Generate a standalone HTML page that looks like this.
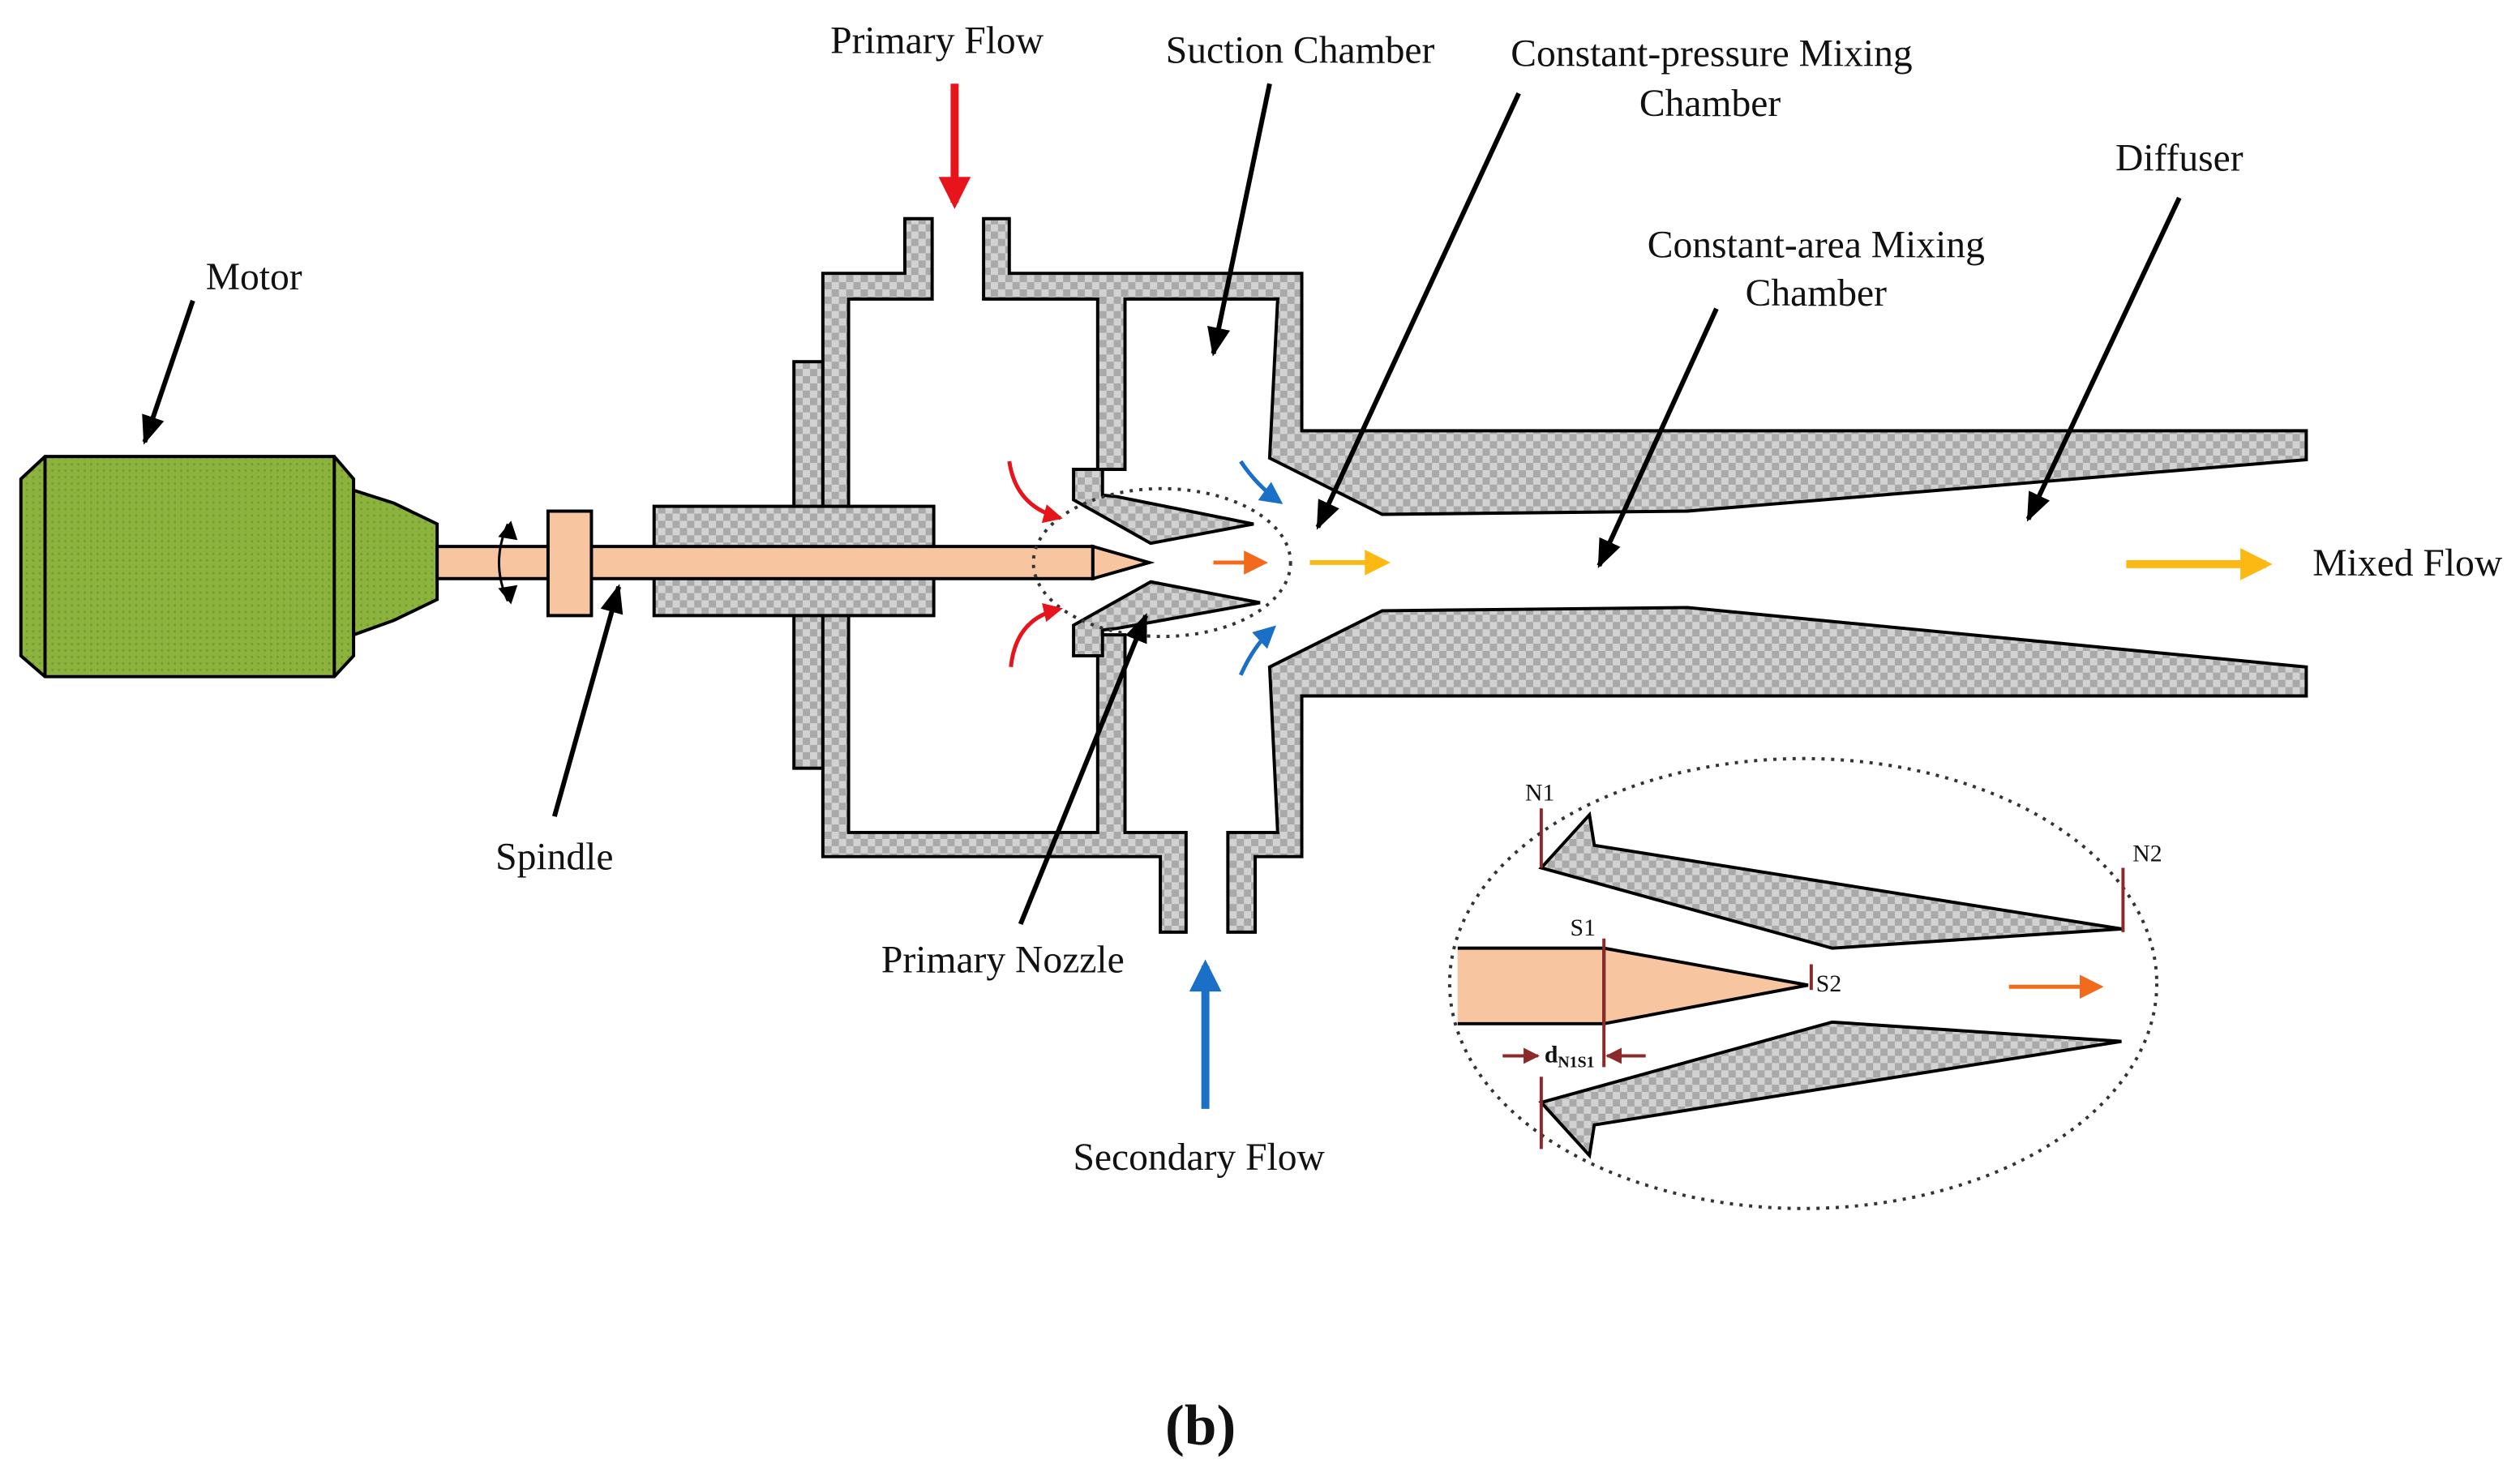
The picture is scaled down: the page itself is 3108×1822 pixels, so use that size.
<!DOCTYPE html>
<html><head><meta charset="utf-8"><style>
html,body{margin:0;padding:0;background:#fff;}
svg{display:block;}
text{font-family:"Liberation Serif",serif;fill:#111;}
</style></head><body>
<svg width="3108" height="1822" viewBox="0 0 1568 919" xmlns="http://www.w3.org/2000/svg">
<defs>
<pattern id="chk" width="9" height="9" patternUnits="userSpaceOnUse">
<rect width="9" height="9" fill="#a9a9a9"/>
<rect width="4.5" height="4.5" fill="#d2d2d2"/>
<rect x="4.5" y="4.5" width="4.5" height="4.5" fill="#d2d2d2"/>
</pattern>
<pattern id="grn" width="4" height="4" patternUnits="userSpaceOnUse">
<rect width="4" height="4" fill="#8db33f"/>
<rect width="1.5" height="1.5" fill="#74a030"/>
</pattern>
<marker id="ar" viewBox="0 0 10 10" refX="8" refY="5" markerWidth="12" markerHeight="12" orient="auto" markerUnits="userSpaceOnUse"><path d="M0,0 L10,5 L0,10 z" fill="#e8141c"/></marker>
<marker id="arb" viewBox="0 0 10 10" refX="8" refY="5" markerWidth="24" markerHeight="20" orient="auto" markerUnits="userSpaceOnUse"><path d="M0,0 L10,5 L0,10 z" fill="#e8141c"/></marker>
<marker id="ab" viewBox="0 0 10 10" refX="8" refY="5" markerWidth="14" markerHeight="14" orient="auto" markerUnits="userSpaceOnUse"><path d="M0,0 L10,5 L0,10 z" fill="#1a6fc6"/></marker>
<marker id="abb" viewBox="0 0 10 10" refX="8" refY="5" markerWidth="24" markerHeight="20" orient="auto" markerUnits="userSpaceOnUse"><path d="M0,0 L10,5 L0,10 z" fill="#1a6fc6"/></marker>
<marker id="ao" viewBox="0 0 10 10" refX="8" refY="5" markerWidth="15" markerHeight="15" orient="auto" markerUnits="userSpaceOnUse"><path d="M0,0 L10,5 L0,10 z" fill="#f26a1b"/></marker>
<marker id="ay" viewBox="0 0 10 10" refX="8" refY="5" markerWidth="16" markerHeight="16" orient="auto" markerUnits="userSpaceOnUse"><path d="M0,0 L10,5 L0,10 z" fill="#fdb913"/></marker>
<marker id="ayb" viewBox="0 0 10 10" refX="8" refY="5" markerWidth="24" markerHeight="20" orient="auto" markerUnits="userSpaceOnUse"><path d="M0,0 L10,5 L0,10 z" fill="#fdb913"/></marker>
<marker id="abr" viewBox="0 0 10 10" refX="9" refY="5" markerWidth="10" markerHeight="10" orient="auto" markerUnits="userSpaceOnUse"><path d="M0,0 L10,5 L0,10 z" fill="#8b2a2a"/></marker>
<marker id="ak" viewBox="0 0 10 10" refX="9" refY="5" markerWidth="18" markerHeight="18" orient="auto" markerUnits="userSpaceOnUse"><path d="M0,1 L10,5 L0,9 z" fill="#000"/></marker>
</defs>

<g stroke="#000" stroke-width="2" stroke-linejoin="miter">
<polygon points="28,284 208,284 220,298 220,408 208,421 28,421 13,408 13,298" fill="url(#grn)"/>
<line x1="28" y1="284" x2="28" y2="421"/>
<line x1="208" y1="284" x2="208" y2="421"/>
<polygon points="220,305 245,313 272,326 272,373 245,386 220,395" fill="url(#grn)"/>

<rect x="494" y="225" width="18" height="253" fill="url(#chk)"/>
<polygon points="512,170 563,170 563,136 580,136 580,186 528,186 528,518 683,518 683,395 700,395 700,518 738,518 738,580 722,580 722,533 512,533" fill="url(#chk)"/>
<polygon points="612,136 628,136 628,170 810,170 810,268 1435,268 1435,286 1050,318 860,320 790,285 795,186 700,186 700,292 683,292 683,186 612,186" fill="url(#chk)"/>
<polygon points="790,415 860,380 1050,378 1435,415 1435,433 810,433 810,533 781,533 781,580 764,580 764,518 795,518" fill="url(#chk)"/>
<polygon points="668,292 686,292 686,308 695,309 780,326 716,338 668,311" fill="url(#chk)"/>
<polygon points="668,408 686,408 686,392 695,391 784,375 716,362 668,389" fill="url(#chk)"/>

<rect x="407" y="315" width="174" height="68" fill="url(#chk)"/>

<rect x="272" y="340" width="408" height="20" fill="#f7c59f"/>
<polygon points="680,340 715,350 680,360" fill="#f7c59f"/>
<rect x="341" y="318" width="27" height="65" fill="#f7c59f"/>
</g>

<path d="M316,374 Q305,350 316,326" fill="none" stroke="#000" stroke-width="1.5"/>
<path d="M310,334 L318,324 L322,336 z" fill="#000"/>
<path d="M310,366 L318,376 L322,364 z" fill="#000"/>

<ellipse cx="723" cy="350" rx="80" ry="46" fill="none" stroke="#333" stroke-width="2" stroke-dasharray="2,4"/>

<line x1="594" y1="52" x2="594" y2="126" stroke="#e8141c" stroke-width="5" marker-end="url(#arb)"/>
<path d="M628,287 Q632,315 659,322" fill="none" stroke="#e8141c" stroke-width="2.5" marker-end="url(#ar)"/>
<path d="M629,415 Q632,385 659,379" fill="none" stroke="#e8141c" stroke-width="2.5" marker-end="url(#ar)"/>
<path d="M772,287 Q782,302 796,312" fill="none" stroke="#1a6fc6" stroke-width="2.5" marker-end="url(#ab)"/>
<path d="M772,420 Q780,402 792,391" fill="none" stroke="#1a6fc6" stroke-width="2.5" marker-end="url(#ab)"/>
<line x1="755" y1="350" x2="786" y2="350" stroke="#f26a1b" stroke-width="2.5" marker-end="url(#ao)"/>
<line x1="815" y1="350" x2="862" y2="350" stroke="#fdb913" stroke-width="3" marker-end="url(#ay)"/>
<line x1="1323" y1="351" x2="1410" y2="351" stroke="#fdb913" stroke-width="5" marker-end="url(#ayb)"/>
<line x1="750" y1="690" x2="750" y2="601" stroke="#1a6fc6" stroke-width="5" marker-end="url(#abb)"/>

<g stroke="#000" stroke-width="3" marker-end="url(#ak)">
<line x1="120" y1="187" x2="90" y2="275"/>
<line x1="345" y1="508" x2="385" y2="365"/>
<line x1="635" y1="575" x2="713" y2="383"/>
<line x1="790" y1="52" x2="755" y2="220"/>
<line x1="945" y1="58" x2="820" y2="328"/>
<line x1="1068" y1="192" x2="995" y2="352"/>
<line x1="1356" y1="123" x2="1262" y2="323"/>
</g>

<g font-size="24">
<text x="583" y="33" text-anchor="middle">Primary Flow</text>
<text x="809" y="39" text-anchor="middle">Suction Chamber</text>
<text x="1065" y="41" text-anchor="middle">Constant-pressure Mixing</text>
<text x="1064" y="72" text-anchor="middle">Chamber</text>
<text x="1356" y="106" text-anchor="middle">Diffuser</text>
<text x="1130" y="160" text-anchor="middle">Constant-area Mixing</text>
<text x="1130" y="190" text-anchor="middle">Chamber</text>
<text x="158" y="180" text-anchor="middle">Motor</text>
<text x="1439" y="358">Mixed Flow</text>
<text x="345" y="541" text-anchor="middle">Spindle</text>
<text x="624" y="605" text-anchor="middle">Primary Nozzle</text>
<text x="746" y="728" text-anchor="middle">Secondary Flow</text>
</g>
<text x="747" y="899" text-anchor="middle" font-size="36" font-weight="bold">(b)</text>

<ellipse cx="1122" cy="612" rx="220" ry="140" fill="none" stroke="#333" stroke-width="2" stroke-dasharray="2,4"/>
<g stroke="#000" stroke-width="2">
<polygon points="959,540 989,507 992,526 1320,578 1140,590" fill="url(#chk)"/>
<polygon points="959,686 989,719 992,700 1320,648 1140,636" fill="url(#chk)"/>
<rect x="907" y="590" width="91" height="47" fill="#f7c59f" stroke="none"/>
<polyline points="907,590 998,590 1125,613 998,637 907,637" fill="#f7c59f"/>
<line x1="998" y1="590" x2="998" y2="637"/>
</g>
<g stroke="#8b2a2a" stroke-width="2">
<line x1="959" y1="503" x2="959" y2="540"/>
<line x1="959" y1="670" x2="959" y2="715"/>
<line x1="1321" y1="540" x2="1321" y2="580"/>
<line x1="998" y1="584" x2="998" y2="664"/>
<line x1="1127" y1="600" x2="1127" y2="616"/>
<line x1="935" y1="657" x2="957" y2="657" marker-end="url(#abr)"/>
<line x1="1024" y1="657" x2="1000" y2="657" marker-end="url(#abr)"/>
</g>
<line x1="1250" y1="614" x2="1306" y2="614" stroke="#f26a1b" stroke-width="2.5" marker-end="url(#ao)"/>
<g font-size="15">
<text x="949" y="498">N1</text>
<text x="1327" y="536">N2</text>
<text x="977" y="582">S1</text>
<text x="1130" y="617">S2</text>
<text x="961" y="661" font-weight="bold">d<tspan font-size="10" dy="3">N1S1</tspan></text>
</g>
</svg>
</body></html>
